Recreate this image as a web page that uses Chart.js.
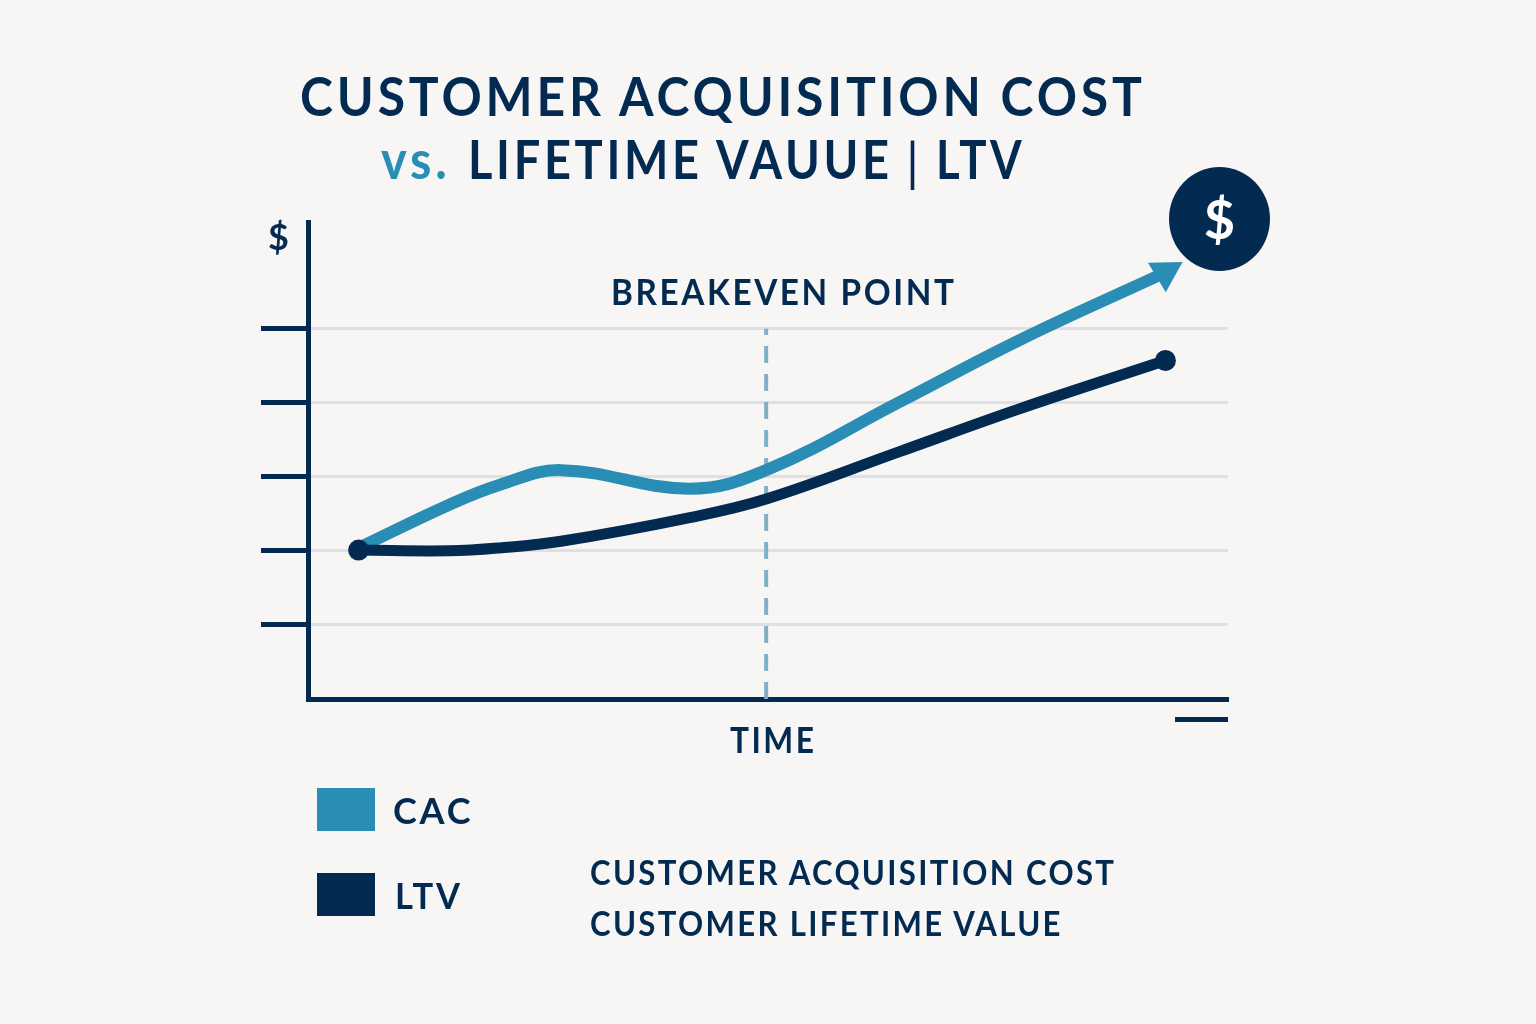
<!DOCTYPE html>
<html>
<head>
<meta charset="utf-8">
<title>CAC vs LTV</title>
<script src="https://cdn.jsdelivr.net/npm/chart.js@4/dist/chart.umd.min.js"></script>
<style>
  html, body { margin: 0; padding: 0; background: #f7f6f4; }
  #wrap { position: relative; width: 1536px; height: 1024px; overflow: hidden; font-family: Lato, sans-serif; font-weight: 700; color: #032b52; }
  #chart { position: absolute; left: 0; top: 0; }
  .txt { position: absolute; white-space: nowrap; line-height: 1; transform-origin: left center; }
  .title { font-size: 53px; letter-spacing: 4.1px; transform: scaleX(0.92); }
  .label { font-size: 36px; letter-spacing: 2.8px; }
  .note { font-size: 35px; letter-spacing: 2.6px; transform: scaleX(0.89); }
  .swatch { position: absolute; left: 317px; width: 58px; height: 43px; }
  #badge { position: absolute; left: 1169px; top: 167px; width: 101px; height: 104px; border-radius: 50%; background: #032b52; color: #fff; font-size: 54px; text-align: center; line-height: 104px; }
  #stub { position: absolute; left: 1175px; top: 717px; width: 53px; height: 5px; background: #032b52; }
</style>
</head>
<body>
<div id="wrap">
  <canvas id="chart" width="1536" height="1024"></canvas>

  <div class="txt title" style="left:300px;top:69px;transform:scaleX(0.94)">CUSTOMER ACQUISITION COST</div>
  <div class="txt title" style="left:381px;top:132px;color:#2a8db5">vs.</div>
  <div class="txt title" style="left:468px;top:132px;transform:scaleX(0.887)">LIFETIME VAUUE</div>
  <div class="txt" style="left:906px;top:135px;font-size:52px;font-weight:400">|</div>
  <div class="txt title" style="left:936px;top:132px;transform:scaleX(0.86)">LTV</div>

  <div class="txt label" style="left:268px;top:218px">$</div>
  <div class="txt label" id="breakeven" style="left:611px;top:273px;transform:scaleX(0.925)"></div>
  <div class="txt label" id="xTitle" style="left:730px;top:721px;transform:scaleX(0.88)"></div>

  <div class="swatch" style="top:788px;background:#2a8db5"></div>
  <div class="swatch" style="top:873px;background:#032b52"></div>
  <div class="txt label" id="legendCac" style="left:393px;top:792px"></div>
  <div class="txt label" id="legendLtv" style="left:395px;top:877px;transform:scaleX(0.96)"></div>

  <div class="txt note" id="noteCac" style="left:590px;top:854px"></div>
  <div class="txt note" id="noteLtv" style="left:590px;top:905px"></div>

  <div id="badge">$</div>
  <div id="stub"></div>
</div>

<script>
// Values
const timePoints = [5.5, 15.3, 20.8, 27.5, 41.5, 49.8, 64.3, 77.4, 93.2];
const cacValues = [2.04, 2.62, 2.89, 3.09, 2.84, 3.09, 4.01, 4.85, 5.76];
const ltvValues = [2.01, 2.00, 2.04, 2.13, 2.45, 2.70, 3.34, 3.92, 4.57];
const yTicks = [1, 2, 3, 4, 5];
const breakevenTime = [49.8, 49.8];
const breakevenLevels = [0, 5];

const seriesNames = ['CAC', 'LTV'];
const seriesLongNames = ['CUSTOMER ACQUISITION COST', 'CUSTOMER LIFETIME VALUE'];
const breakevenLabel = 'BREAKEVEN POINT';
const xAxisLabel = 'TIME';

const teal = '#2a8db5';
const navy = '#032b52';

document.getElementById('breakeven').textContent = breakevenLabel;
document.getElementById('xTitle').textContent = xAxisLabel;
document.getElementById('legendCac').textContent = seriesNames[0];
document.getElementById('legendLtv').textContent = seriesNames[1];
document.getElementById('noteCac').textContent = seriesLongNames[0];
document.getElementById('noteLtv').textContent = seriesLongNames[1];

const toPoints = (xs, ys) => xs.map((x, i) => ({ x: x, y: ys[i] }));
const lastIndex = timePoints.length - 1;

new Chart(document.getElementById('chart').getContext('2d'), {
  type: 'scatter',
  data: {
    datasets: [
      {
        label: seriesNames[1],
        data: toPoints(timePoints, ltvValues),
        showLine: true,
        borderColor: navy,
        backgroundColor: navy,
        borderWidth: 11,
        borderCapStyle: 'round',
        tension: 0.4,
        pointRadius: ctx => (ctx.dataIndex === 0 || ctx.dataIndex === lastIndex ? 10.5 : 0),
        pointBorderWidth: 0
      },
      {
        label: seriesNames[0],
        data: toPoints(timePoints, cacValues),
        showLine: true,
        borderColor: teal,
        backgroundColor: teal,
        borderWidth: 12,
        borderCapStyle: 'round',
        tension: 0.4,
        pointStyle: 'triangle',
        rotation: 59,
        pointRadius: ctx => (ctx.dataIndex === lastIndex ? 20 : 0),
        pointBorderWidth: 0
      },
      {
        label: breakevenLabel,
        data: toPoints(breakevenTime, breakevenLevels),
        showLine: true,
        borderColor: '#7fb0c8',
        borderWidth: 4,
        borderDash: [17, 11],
        pointRadius: 0
      }
    ]
  },
  options: {
    responsive: false,
    animation: false,
    layout: { padding: { left: 261, right: 308, top: 222, bottom: 325 } },
    plugins: { legend: { display: false }, tooltip: { enabled: false } },
    scales: {
      x: {
        min: 0,
        max: 100,
        ticks: { display: false },
        grid: { display: false, drawTicks: false },
        border: { display: true, color: navy, width: 5 }
      },
      y: {
        min: 0,
        max: 6.44,
        afterBuildTicks: axis => { axis.ticks = yTicks.map(v => ({ value: v })); },
        ticks: { display: false },
        grid: {
          color: '#dfe0e6',
          lineWidth: 3,
          tickColor: navy,
          tickWidth: 5,
          tickLength: 47
        },
        border: { display: true, color: navy, width: 5 }
      }
    }
  }
});
</script>
</body>
</html>
